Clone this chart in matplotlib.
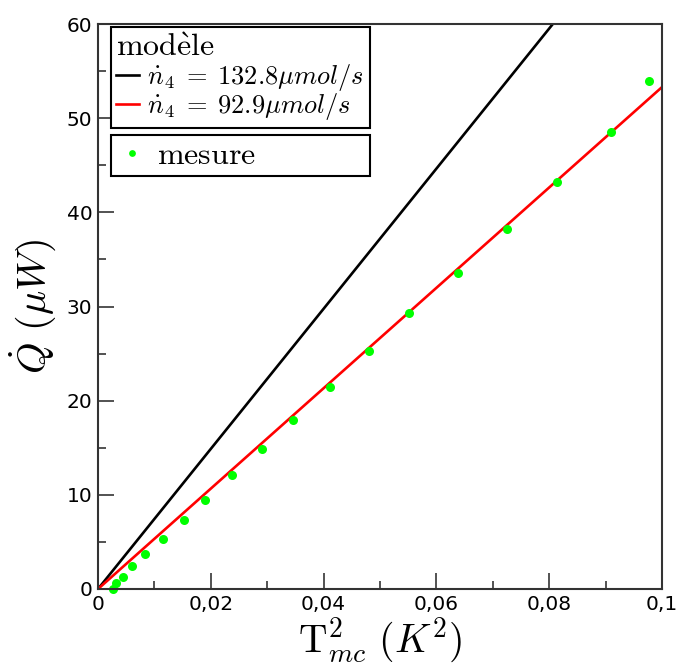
import numpy as np
import matplotlib
matplotlib.use("Agg")
import matplotlib.pyplot as plt
from matplotlib.ticker import MultipleLocator, FuncFormatter

plt.rcParams['mathtext.fontset'] = 'cm'

# mesures
t2_mesure = [0.0027, 0.0032, 0.0044, 0.0060, 0.0083, 0.0115, 0.0153, 0.0190,
             0.0237, 0.0290, 0.0346, 0.0412, 0.0480, 0.0551, 0.0639, 0.0725,
             0.0813, 0.0909, 0.0977]
q_mesure = [0.0, 0.6, 1.3, 2.4, 3.7, 5.3, 7.3, 9.5, 12.1, 14.9, 18.0, 21.5,
            25.3, 29.3, 33.6, 38.2, 43.2, 48.5, 54.0]

# modeles
t2_modele = [0.0, 0.1]
q_modele_1328 = [0.0, 74.4]
q_modele_929 = [0.0, 53.3]

fig = plt.figure(figsize=(6.83, 6.64), dpi=100)
ax = fig.add_axes([98 / 683, 1 - 589 / 664, 564 / 683, 565 / 664])

l1, = ax.plot(t2_modele, q_modele_1328, color='black', lw=1.9,
              label=r'$\dot{n}_4 \;=\; 132.8\mu mol/s$')
l2, = ax.plot(t2_modele, q_modele_929, color='red', lw=1.9,
              label=r'$\dot{n}_4 \;=\; 92.9\mu mol/s$')
pts, = ax.plot(t2_mesure, q_mesure, 'o', color='#00ff00', ms=6.5,
               markeredgewidth=0, label=r'$\mathrm{mesure}$', clip_on=False)

ax.set_xlim(0, 0.1)
ax.set_ylim(0, 60)
ax.xaxis.set_major_locator(MultipleLocator(0.02))
ax.xaxis.set_minor_locator(MultipleLocator(0.01))
ax.yaxis.set_major_locator(MultipleLocator(10))
ax.yaxis.set_minor_locator(MultipleLocator(5))
ax.xaxis.set_major_formatter(FuncFormatter(
    lambda v, p: '0' if v == 0 else ('%g' % round(v, 3)).replace('.', ',')))
ax.tick_params(which='both', direction='in', top=False, right=False,
               labelsize=14.5, width=1.3, color='#444444')
ax.tick_params(which='major', length=11.5, pad=4)
ax.tick_params(which='minor', length=5.8)
for s in ax.spines.values():
    s.set_linewidth(1.5)
    s.set_color('#333333')

ax.set_xlabel(r'$\mathrm{T}^2_{mc}\ (K^2)$', fontsize=28.5, labelpad=1)
ax.set_ylabel(r'$\dot{Q}\ (\mu W)$', fontsize=29, labelpad=6)

leg1 = ax.legend(handles=[l1, l2], title=r'$\mathrm{mod\grave{e}le}$',
                 loc='upper left', bbox_to_anchor=(0.023, 0.0, 0.459, 0.995),
                 mode='expand', borderaxespad=0, fontsize=19,
                 title_fontsize=23, fancybox=False, framealpha=1,
                 edgecolor='black', handlelength=0.85, handletextpad=0.3,
                 labelspacing=-0.05, borderpad=0.2, alignment='left')
leg1.get_frame().set_linewidth(1.5)
ax.add_artist(leg1)

leg2 = ax.legend(handles=[pts], loc='upper left',
                 bbox_to_anchor=(0.023, 0.0, 0.459, 0.8035),
                 mode='expand', borderaxespad=0, fontsize=23,
                 fancybox=False, framealpha=1, edgecolor='black',
                 markerscale=0.75,
                 handlelength=1.0, handletextpad=0.3, borderpad=0.15)
leg2.get_frame().set_linewidth(1.5)

fig.savefig('out.png', dpi=100)
